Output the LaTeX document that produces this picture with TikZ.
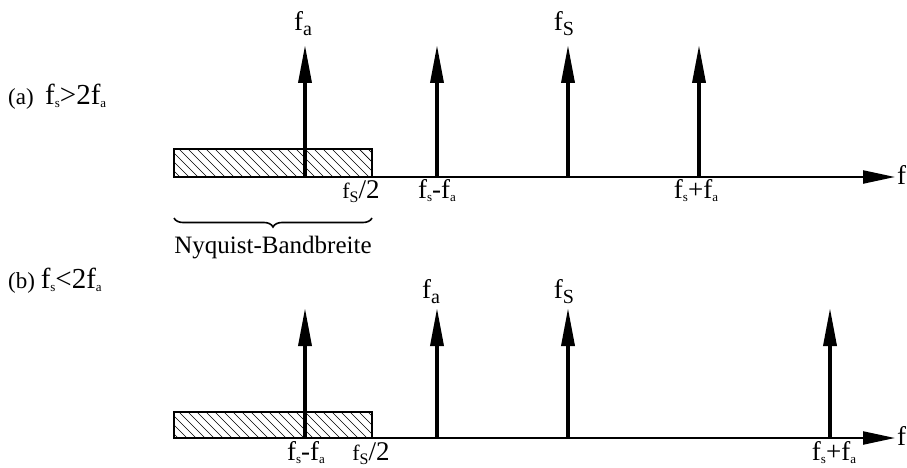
\documentclass[tikz,border=0pt]{standalone}
\usepackage{fontspec}
\setmainfont{Liberation Serif}
\usetikzlibrary{arrows.meta,decorations.pathreplacing}
\newcommand\BigF[1]{{\fontsize{27}{27}\selectfont f\raisebox{-5pt}{\fontsize{20}{20}\selectfont #1}}}
\newcommand\AxF[1]{{\fontsize{22}{22}\selectfont f\raisebox{-4.5pt}{\fontsize{16}{16}\selectfont #1}}}
\newcommand\TnF[1]{f\raisebox{-3pt}{\fontsize{13}{13}\selectfont #1}}
\tikzset{
  spike/.style={line width=3.5pt,-{Triangle[length=38pt,width=13pt]}},
  axis/.style={line width=2.2pt,-{Triangle[length=32pt,width=13pt]}},
  band/.style={draw,line width=1.8pt},
  hatch/.style={line width=0.7pt},
  lbl/.style={anchor=base,inner sep=0pt,font=\fontsize{27}{27}\selectfont},
  big/.style={anchor=base,inner sep=0pt,font=\fontsize{27}{27}\selectfont},
  case/.style={anchor=base west,inner sep=0pt,font=\fontsize{23}{23}\selectfont}
}
\begin{document}
\begin{tikzpicture}[x=1pt,y=-1pt]
\useasboundingbox (0,0) rectangle (907,468);
% ---------- (a) ----------
\node[case] (ca) at (8,105) {(a)\hspace{0.5em}{\fontsize{29}{29}\selectfont\TnF{s}>2\TnF{a}}};
% band
\begin{scope}
\clip (174,149) rectangle (372,177);
\foreach \i in {-40,-31,...,380} \draw[hatch] (174+\i,149) -- (174+\i+28,177);
\end{scope}
\node[band,minimum width=198pt,minimum height=28pt,inner sep=0pt] (bandA) at (273,163) {};
\coordinate (axA0) at (174,177);
\coordinate (axA1) at (895,177);
\draw[axis] (axA0) -- (axA1);
\coordinate (a1b) at (305,177); \coordinate (a1t) at (305,45);
\coordinate (a2b) at (437,177); \coordinate (a2t) at (437,45);
\coordinate (a3b) at (568,177); \coordinate (a3t) at (568,45);
\coordinate (a4b) at (699,177); \coordinate (a4t) at (699,45);
\draw[spike] (a1b) -- (a1t);
\draw[spike] (a2b) -- (a2t);
\draw[spike] (a3b) -- (a3t);
\draw[spike] (a4b) -- (a4t);
\node[big] (la1) at (303,31) {\BigF{a}};
\node[big] (la3) at (564,31) {\BigF{S}};
\node[lbl] (la5) at (361,198) {\AxF{S}/2};
\node[lbl] (la6) at (437,198) {\TnF{s}-\TnF{a}};
\node[lbl] (la7) at (696,198) {\TnF{s}+\TnF{a}};
\node[big,anchor=base west] (fA) at (897,184) {f};
\coordinate (brL) at (174,218);
\coordinate (brR) at (372,218);
\draw[line width=1.6pt,decorate,decoration={brace,mirror,amplitude=9pt}] (brL) -- (brR);
\node[lbl,font=\fontsize{25}{25}\selectfont] (nyq) at (273,253) {Nyquist-Bandbreite};
% ---------- (b) ----------
\node[case] (cb) at (8,288) {(b) {\fontsize{29}{29}\selectfont\TnF{s}<2\TnF{a}}};
\begin{scope}
\clip (174,412) rectangle (372,438);
\foreach \i in {-40,-31,...,380} \draw[hatch] (174+\i,412) -- (174+\i+26,438);
\end{scope}
\node[band,minimum width=198pt,minimum height=26pt,inner sep=0pt] (bandB) at (273,425) {};
\coordinate (axB0) at (174,438);
\coordinate (axB1) at (895,438);
\draw[axis] (axB0) -- (axB1);
\coordinate (b1b) at (305,438); \coordinate (b1t) at (305,308);
\coordinate (b2b) at (437,438); \coordinate (b2t) at (437,308);
\coordinate (b3b) at (568,438); \coordinate (b3t) at (568,308);
\coordinate (b4b) at (830,438); \coordinate (b4t) at (830,308);
\draw[spike] (b1b) -- (b1t);
\draw[spike] (b2b) -- (b2t);
\draw[spike] (b3b) -- (b3t);
\draw[spike] (b4b) -- (b4t);
\node[big] (lb2) at (431,298) {\BigF{a}};
\node[big] (lb3) at (564,298) {\BigF{S}};
\node[lbl] (lb1) at (306,460) {\TnF{s}-\TnF{a}};
\node[lbl] (lb5) at (371,460) {\AxF{S}/2};
\node[lbl] (lb4) at (834,460) {\TnF{s}+\TnF{a}};
\node[big,anchor=base west] (fB) at (897,445) {f};
\end{tikzpicture}
\end{document}
